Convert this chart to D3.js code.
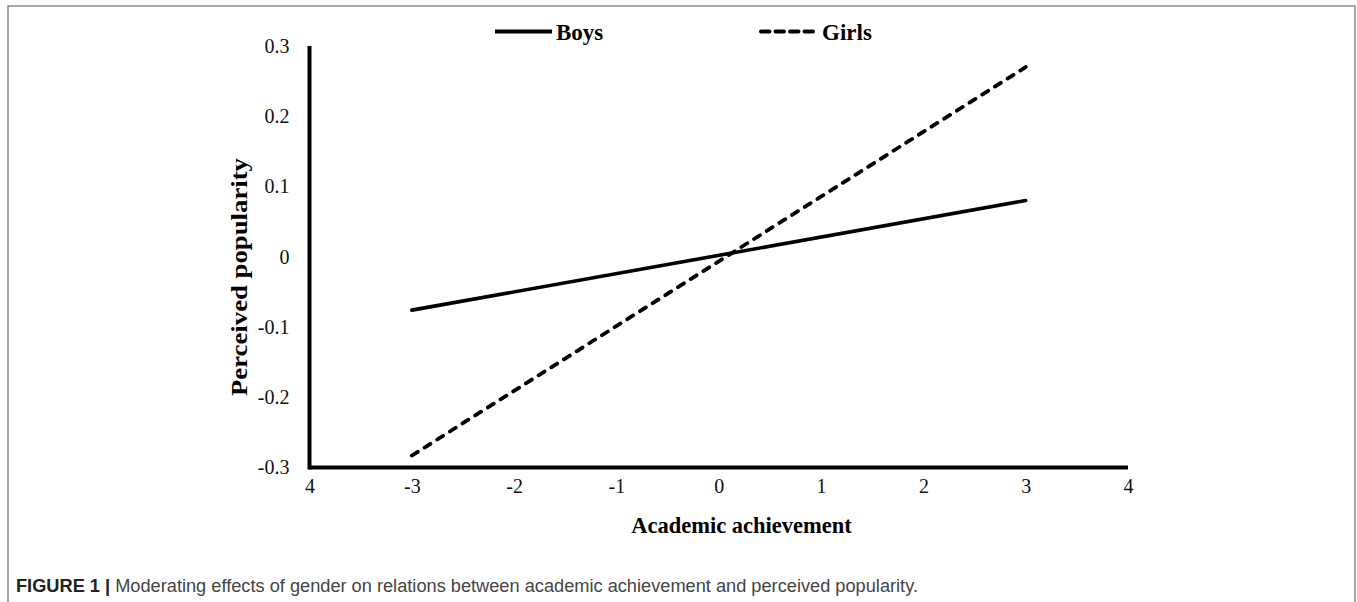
<!DOCTYPE html>
<html>
<head>
<meta charset="utf-8">
<script src="https://cdn.jsdelivr.net/npm/d3@7"></script>
<style>
  html, body { margin: 0; padding: 0; background: #fff; }
  svg { display: block; }
</style>
</head>
<body>
<svg id="chart" width="1357" height="602"></svg>
<script>
// ---- data ----
const xTicks = [-4, -3, -2, -1, 0, 1, 2, 3, 4];
const xTickLabels = ["4", "-3", "-2", "-1", "0", "1", "2", "3", "4"];
const yTicks = [-0.3, -0.2, -0.1, 0, 0.1, 0.2, 0.3];
const yTickLabels = ["-0.3", "-0.2", "-0.1", "0", "0.1", "0.2", "0.3"];
const achievement = [-3, 3];
const boys = [-0.076, 0.080];
const girls = [-0.283, 0.270];
const seriesNames = ["Boys", "Girls"];
const xTitle = "Academic achievement";
const yTitle = "Perceived popularity";
const captionBold = "FIGURE 1 | ";
const captionText = "Moderating effects of gender on relations between academic achievement and perceived popularity.";

// ---- layout ----
const svg = d3.select("#chart");
const serif = "'Liberation Serif', 'Times New Roman', serif";
const sans = "'Liberation Sans', Arial, Helvetica, sans-serif";

const x = d3.scaleLinear().domain([-4, 4]).range([309.5, 1128]);
const y = d3.scaleLinear().domain([-0.3, 0.3]).range([467.5, 46]);

// figure frame
svg.append("path")
  .attr("d", "M8,602 L8,6 L1355,6 L1355,602")
  .attr("fill", "none")
  .attr("stroke", "#8a8a8a")
  .attr("stroke-width", 1.5);

// x axis
const xAxis = svg.append("g")
  .attr("transform", `translate(0,${y(-0.3)})`)
  .call(d3.axisBottom(x).tickValues(xTicks).tickSize(0).tickPadding(11)
    .tickFormat((d, i) => xTickLabels[i]));
xAxis.select(".domain").attr("stroke", "#000").attr("stroke-width", 4)
  .attr("d", `M${x(-4)},0H${x(4)}`);
xAxis.selectAll("text").attr("font-family", serif).attr("font-size", 20).attr("fill", "#111");

// y axis
const yAxis = svg.append("g")
  .attr("transform", `translate(${x(-4)},0)`)
  .call(d3.axisLeft(y).tickValues(yTicks).tickSize(0).tickPadding(20)
    .tickFormat((d, i) => yTickLabels[i]));
yAxis.select(".domain").attr("stroke", "#000").attr("stroke-width", 4)
  .attr("d", `M0,${y(0.3)}V${y(-0.3) + 2}`);
yAxis.selectAll("text").attr("font-family", serif).attr("font-size", 20).attr("fill", "#111");

// lines
const line = d3.line().x(d => x(d[0])).y(d => y(d[1]));
svg.append("path")
  .datum(achievement.map((a, i) => [a, boys[i]]))
  .attr("d", line)
  .attr("fill", "none").attr("stroke", "#000").attr("stroke-width", 3.6)
  .attr("stroke-linecap", "round");
svg.append("path")
  .datum(achievement.map((a, i) => [a, girls[i]]))
  .attr("d", line)
  .attr("fill", "none").attr("stroke", "#000").attr("stroke-width", 3.8)
  .attr("stroke-linecap", "round")
  .attr("stroke-dasharray", "7,8");

// legend
const legend = svg.append("g");
const legendItems = [
  { name: seriesNames[0], x0: 495, dash: null, cap: "butt" },
  { name: seriesNames[1], x0: 761, dash: "8.5,6", cap: "round" }
];
legendItems.forEach(it => {
  legend.append("line")
    .attr("x1", it.x0).attr("x2", it.x0 + (it.dash ? 52 : 57)).attr("y1", 31.5).attr("y2", 31.5)
    .attr("stroke", "#000").attr("stroke-width", 4)
    .attr("stroke-linecap", it.cap)
    .attr("stroke-dasharray", it.dash);
  legend.append("text")
    .attr("x", it.x0 + 61).attr("y", 39.5)
    .attr("font-family", serif).attr("font-size", 23).attr("font-weight", "bold")
    .attr("fill", "#000")
    .text(it.name);
});

// axis titles
svg.append("text")
  .attr("x", 741.5).attr("y", 533)
  .attr("text-anchor", "middle")
  .attr("font-family", serif).attr("font-size", 22.5).attr("font-weight", "bold")
  .attr("fill", "#000")
  .text(xTitle);

svg.append("text")
  .attr("transform", "translate(247,277) rotate(-90)")
  .attr("text-anchor", "middle")
  .attr("font-family", serif).attr("font-size", 22.5).attr("font-weight", "bold")
  .attr("textLength", 238).attr("lengthAdjust", "spacingAndGlyphs")
  .attr("fill", "#000")
  .text(yTitle);

// caption
const cap = svg.append("text")
  .attr("x", 16).attr("y", 591.5)
  .attr("font-family", sans).attr("font-size", 17.5)
  .attr("textLength", 902).attr("lengthAdjust", "spacingAndGlyphs")
  .attr("fill", "#444");
cap.append("tspan").attr("font-weight", "bold").attr("fill", "#222").text(captionBold);
cap.append("tspan").text(captionText);
</script>
</body>
</html>
